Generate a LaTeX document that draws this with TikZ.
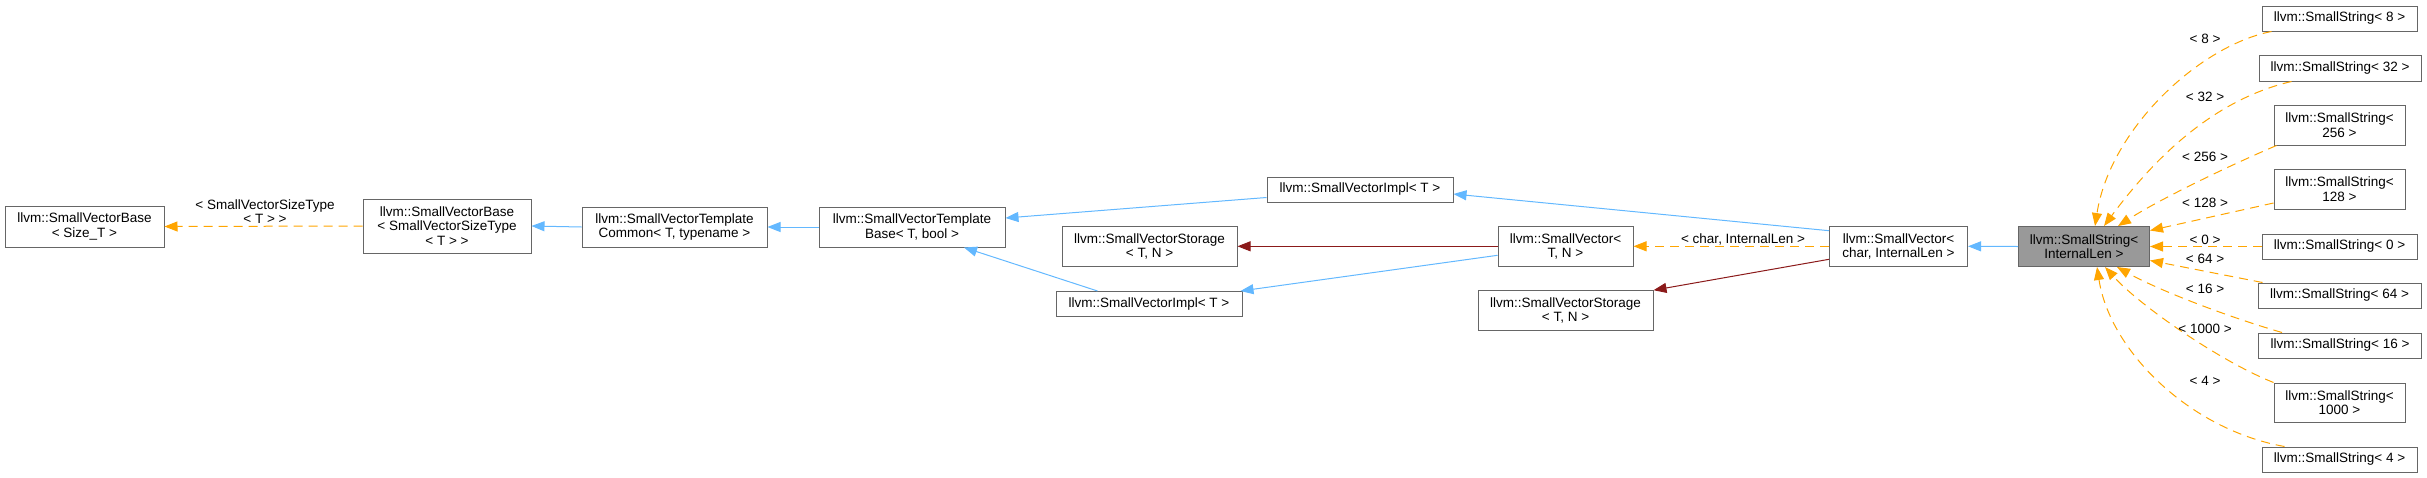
\documentclass[tikz,border=0pt]{standalone}
\usepackage{fontspec}
\setmainfont{Liberation Sans}
\usetikzlibrary{arrows.meta}
\definecolor{pubblue}{HTML}{63B8FF}
\definecolor{privred}{HTML}{8B1A1A}
\definecolor{tmplorange}{HTML}{FFA500}
\definecolor{boxline}{HTML}{666666}
\definecolor{mainfill}{HTML}{999999}
\newcommand{\dxfont}{\fontsize{13.5}{14.5}\selectfont}

\begin{document}
\begin{tikzpicture}[x=1pt,y=-1pt,
  cls/.style={draw=boxline, line width=1pt, fill=white, align=center, inner sep=0pt, font=\dxfont},
  lbl/.style={font=\dxfont, align=center, inner sep=0pt},
  pub/.style={draw=pubblue, line width=1pt, -{Triangle[length=13pt,width=10pt]}},
  priv/.style={draw=privred, line width=1pt, -{Triangle[length=13pt,width=10pt]}},
  tmpl/.style={draw=tmplorange, line width=1pt, dash pattern=on 9pt off 6pt, -{Triangle[length=13pt,width=10pt]}}]
  \useasboundingbox (0,0) rectangle (2427,477);

  % base classes
  \node[cls, minimum width=159pt, minimum height=41pt] (sizeT) at (84.5,226.5) {llvm::SmallVectorBase\\< Size\_T >};
  \node[cls, minimum width=168pt, minimum height=54pt] (svst) at (447,226) {llvm::SmallVectorBase\\< SmallVectorSizeType\\< T > >};
  \node[cls, minimum width=185pt, minimum height=40pt] (svtc) at (674.5,227) {llvm::SmallVectorTemplate\\Common< T, typename >};
  \node[cls, minimum width=186pt, minimum height=40pt] (svtb) at (912,227) {llvm::SmallVectorTemplate\\Base< T, bool >};
  \node[cls, minimum width=186pt, minimum height=25pt] (implA) at (1360,189.5) {llvm::SmallVectorImpl< T >};
  \node[cls, minimum width=175pt, minimum height=40pt] (storA) at (1149.5,246.3) {llvm::SmallVectorStorage\\< T, N >};
  \node[cls, minimum width=186pt, minimum height=25pt] (implB) at (1149,304) {llvm::SmallVectorImpl< T >};
  \node[cls, minimum width=135pt, minimum height=40pt] (vecTN) at (1565.5,246.3) {llvm::SmallVector<\\T, N >};
  \node[cls, minimum width=175pt, minimum height=40pt] (storB) at (1565.5,310.7) {llvm::SmallVectorStorage\\< T, N >};
  \node[cls, minimum width=138pt, minimum height=40pt] (vecChar) at (1898.5,246.3) {llvm::SmallVector<\\char, InternalLen >};
  \node[cls, fill=mainfill, minimum width=131pt, minimum height=40pt] (ssil) at (2084,246.5) {llvm::SmallString<\\InternalLen >};

  % derived strings
  \node[cls, minimum width=155pt, minimum height=25pt] (s8) at (2339.5,18.5) {llvm::SmallString< 8 >};
  \node[cls, minimum width=162pt, minimum height=26pt] (s32) at (2340,68) {llvm::SmallString< 32 >};
  \node[cls, minimum width=131pt, minimum height=40pt] (s256) at (2339.5,125) {llvm::SmallString<\\256 >};
  \node[cls, minimum width=131pt, minimum height=40pt] (s128) at (2339.5,189) {llvm::SmallString<\\128 >};
  \node[cls, minimum width=155pt, minimum height=25pt] (s0) at (2339.5,246.5) {llvm::SmallString< 0 >};
  \node[cls, minimum width=163pt, minimum height=25pt] (s64) at (2339.5,295.5) {llvm::SmallString< 64 >};
  \node[cls, minimum width=163pt, minimum height=25pt] (s16) at (2340,345.5) {llvm::SmallString< 16 >};
  \node[cls, minimum width=131pt, minimum height=39pt] (s1000) at (2339.5,402.5) {llvm::SmallString<\\1000 >};
  \node[cls, minimum width=155pt, minimum height=25pt] (s4) at (2339.5,459.5) {llvm::SmallString< 4 >};

  % inheritance
  \draw[tmpl] (svst.west) -- (sizeT.east);
  \draw[pub] (svtc.west) -- (svst.east);
  \draw[pub] (svtb.west) -- (svtc.east);
  \draw[pub] ([yshift=-8pt]implA.west) -- ([yshift=9pt]svtb.east);
  \draw[pub] ([xshift=42pt]implB.north west) -- ([xshift=52pt]svtb.south);
  \draw[priv] (vecTN.west) -- (storA.east);
  \draw[pub] ([yshift=-9pt]vecTN.west) -- ([xshift=-2pt]implB.north east);
  \draw[tmpl] (vecChar.west) -- (vecTN.east);
  \draw[priv] ([yshift=-13pt]vecChar.west) -- (storB.north east);
  \draw[pub] ([yshift=15.6pt]vecChar.west) -- ([yshift=-4.5pt]implA.east);
  \draw[pub] (ssil.west) -- (vecChar.east);

  % template instances
  \draw[tmpl] ([xshift=10pt]s8.south west) .. controls +(-72,14) and +(15,-97) .. ([xshift=11pt]ssil.north);
  \draw[tmpl] ([xshift=33pt]s32.south west) .. controls +(-82,19) and +(46,-62) .. ([xshift=20pt]ssil.north);
  \draw[tmpl] ([xshift=3pt]s256.south west) .. controls +(-47,20) and +(42,-27) .. ([xshift=34pt]ssil.north);
  \draw[tmpl] ([yshift=-14pt]s128.west) -- ([yshift=16pt]ssil.east);
  \draw[tmpl] (s0.west) -- (ssil.east);
  \draw[tmpl] ([xshift=5pt]s64.north west) -- ([yshift=-14pt]ssil.east);
  \draw[tmpl] ([xshift=24pt]s16.north west) .. controls +(-52,-15) and +(43,24) .. ([xshift=33pt]ssil.south);
  \draw[tmpl] (s1000.north west) .. controls +(-53,-21) and +(35,39) .. ([xshift=21pt]ssil.south);
  \draw[tmpl] ([xshift=23pt]s4.north west) .. controls +(-95,-17) and +(13,84) .. ([xshift=13pt]ssil.south);

  % edge labels
  \node[lbl] (lsvst) at (265,211.5) {< SmallVectorSizeType\\< T > >};
  \node[lbl] (lchar) at (1743,239) {< char, InternalLen >};
  \node[lbl] (l8) at (2205,39) {< 8 >};
  \node[lbl] (l32) at (2205,97) {< 32 >};
  \node[lbl] (l256) at (2205,157) {< 256 >};
  \node[lbl] (l128) at (2205,203) {< 128 >};
  \node[lbl] (l0) at (2205,240) {< 0 >};
  \node[lbl] (l64) at (2205,259) {< 64 >};
  \node[lbl] (l16) at (2205,289) {< 16 >};
  \node[lbl] (l1000) at (2205,329) {< 1000 >};
  \node[lbl] (l4) at (2205,381) {< 4 >};
\end{tikzpicture}
\end{document}
